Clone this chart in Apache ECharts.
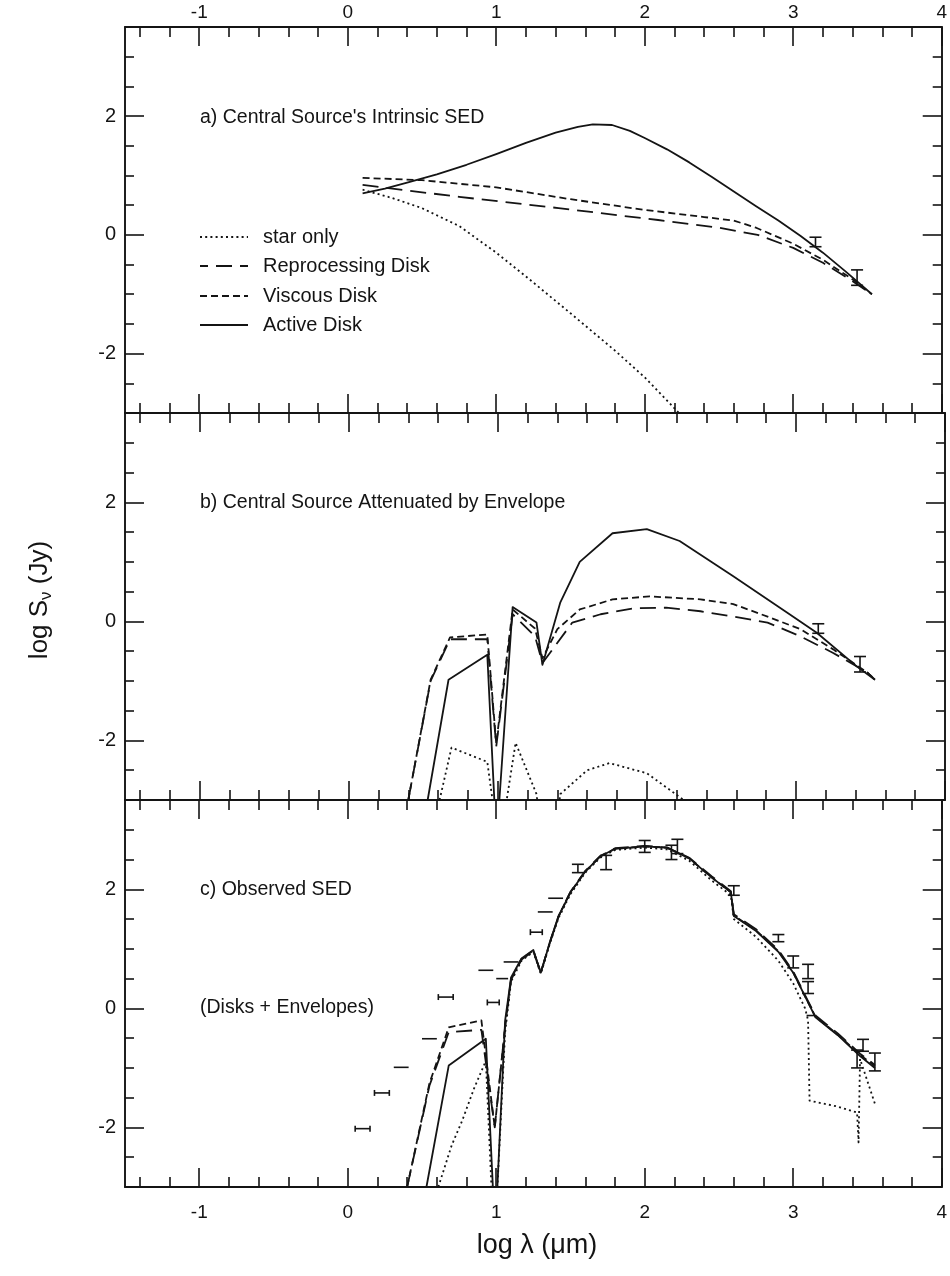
<!DOCTYPE html>
<html>
<head>
<meta charset="utf-8">
<script src="https://cdn.jsdelivr.net/npm/echarts@6/dist/echarts.min.js"></script>
<style>
  html, body { margin: 0; padding: 0; background: #fff; }
  #chart { width: 950px; height: 1276px; }
</style>
</head>
<body>
<div id="chart"></div>
<script>
// ---- axis ranges and tick labels ----
const xRange = [-1.5, 4];
const yRange = [-3, 3.5];
const xMajorTicks = [-1, 0, 1, 2, 3, 4];
const yMajorTicks = [-2, 0, 2];
const yMinorTicks = [-2.5, -1.5, -1, -0.5, 0.5, 1, 1.5, 2.5, 3];
const xMinorTicks = [];
for (let i = -7; i <= 19; i++) {
  const v = Math.round(i * 0.2 * 10) / 10;
  if (!Number.isInteger(v)) xMinorTicks.push(v);
}

// ---- panel titles and legend names ----
const panelTitles = [
  "a) Central Source's Intrinsic SED",
  "b) Central Source Attenuated by Envelope",
  "c) Observed SED"
];
const panelNote = "(Disks + Envelopes)";
const seriesNames = ["star only", "Reprocessing Disk", "Viscous Disk", "Active Disk"];

// ---- a) intrinsic SED of the central source: [log lambda, log S] ----
const starA = [[0.10,0.76],[0.3,0.62],[0.5,0.45],[0.75,0.15],[1.0,-0.30],[1.2,-0.70],[1.5,-1.32],[1.8,-1.95],[2.0,-2.40],[2.23,-3.0]];
const reproA = [[0.10,0.84],[0.75,0.64],[1.42,0.45],[2.09,0.25],[2.5,0.12],[2.76,0.0],[3.0,-0.22],[3.2,-0.47],[3.4,-0.78],[3.53,-1.0]];
const viscousA = [[0.10,0.96],[0.5,0.92],[1.0,0.80],[1.5,0.60],[2.0,0.42],[2.4,0.30],[2.6,0.24],[2.75,0.12],[3.0,-0.15],[3.2,-0.42],[3.4,-0.75],[3.53,-1.0]];
const activeA = [[0.10,0.70],[0.25,0.78],[0.4,0.88],[0.6,1.02],[0.8,1.18],[1.0,1.36],[1.2,1.55],[1.4,1.72],[1.55,1.82],[1.65,1.86],[1.78,1.85],[1.9,1.75],[2.0,1.63],[2.15,1.44],[2.3,1.22],[2.45,0.98],[2.6,0.73],[2.75,0.48],[2.9,0.24],[3.05,-0.02],[3.2,-0.3],[3.35,-0.61],[3.53,-1.0]];

// ---- b) central source seen through the envelope ----
const starB = [[0.61,-3.0],[0.69,-2.12],[0.93,-2.36],[0.965,-3.0],[0.975,-3.5],[1.045,-3.5],[1.06,-3.0],[1.12,-2.04],[1.26,-2.9],[1.28,-3.3],[1.40,-3.3],[1.42,-2.9],[1.6,-2.5],[1.75,-2.38],[2.0,-2.55],[2.22,-2.95],[2.3,-3.1]];
const reproB = [[0.40,-3.0],[0.55,-1.0],[0.68,-0.3],[0.93,-0.3],[0.99,-2.1],[1.10,0.12],[1.25,-0.25],[1.30,-0.7],[1.50,-0.02],[1.69,0.12],[1.91,0.22],[2.13,0.23],[2.36,0.17],[2.58,0.08],[2.81,-0.02],[3.03,-0.25],[3.25,-0.53],[3.48,-0.86],[3.53,-0.98]];
const viscousB = [[0.40,-3.0],[0.55,-0.98],[0.68,-0.27],[0.93,-0.22],[0.99,-2.05],[1.10,0.2],[1.25,-0.12],[1.30,-0.62],[1.40,-0.13],[1.55,0.2],[1.77,0.37],[2.02,0.42],[2.36,0.37],[2.58,0.29],[2.81,0.08],[3.03,-0.13],[3.25,-0.47],[3.48,-0.86],[3.53,-0.98]];
const activeB = [[0.53,-3.0],[0.67,-0.98],[0.93,-0.56],[0.985,-3.4],[1.0,-3.4],[1.10,0.24],[1.26,-0.02],[1.30,-0.73],[1.42,0.32],[1.55,1.0],[1.77,1.48],[2.0,1.55],[2.22,1.35],[2.58,0.76],[2.94,0.15],[3.14,-0.19],[3.41,-0.76],[3.53,-0.98]];

// ---- c) observed SED, disks plus envelopes ----
const starC = [[0.61,-3.0],[0.70,-2.3],[0.77,-1.89],[0.85,-1.35],[0.93,-0.88],[0.975,-3.4],[1.0,-3.4],[1.06,-0.4],[1.10,0.45],[1.17,0.8],[1.25,0.95],[1.30,0.58],[1.36,1.08],[1.42,1.52],[1.5,1.92],[1.6,2.28],[1.7,2.53],[1.8,2.66],[2.0,2.7],[2.15,2.67],[2.3,2.48],[2.45,2.15],[2.58,1.9],[2.6,1.5],[2.75,1.2],[2.9,0.8],[3.0,0.42],[3.08,0.0],[3.1,-0.2],[3.11,-1.55],[3.3,-1.65],[3.43,-1.75],[3.44,-2.25],[3.45,-0.85],[3.55,-1.6]];
const reproC = [[0.40,-3.0],[0.55,-1.3],[0.68,-0.4],[0.90,-0.36],[0.99,-2.0],[1.06,-0.3],[1.10,0.48],[1.17,0.82],[1.25,0.96],[1.30,0.6],[1.36,1.1],[1.42,1.55],[1.5,1.96],[1.6,2.31],[1.7,2.56],[1.8,2.69],[2.0,2.73],[2.15,2.7],[2.3,2.53],[2.45,2.22],[2.58,1.97],[2.6,1.58],[2.75,1.33],[2.9,0.98],[3.0,0.62],[3.1,0.12],[3.15,-0.12],[3.3,-0.42],[3.45,-0.76],[3.55,-0.95]];
const viscousC = [[0.40,-3.0],[0.55,-1.26],[0.68,-0.32],[0.90,-0.2],[0.99,-2.0],[1.06,-0.3],[1.10,0.5],[1.17,0.83],[1.25,0.97],[1.30,0.6],[1.36,1.1],[1.42,1.55],[1.5,1.95],[1.6,2.3],[1.7,2.55],[1.8,2.68],[2.0,2.72],[2.15,2.7],[2.3,2.52],[2.45,2.2],[2.58,1.95],[2.6,1.56],[2.75,1.31],[2.9,0.96],[3.0,0.6],[3.1,0.1],[3.15,-0.14],[3.3,-0.44],[3.45,-0.78],[3.55,-0.97]];
const activeC = [[0.53,-3.0],[0.68,-0.96],[0.93,-0.51],[0.985,-3.4],[1.0,-3.4],[1.06,-0.2],[1.10,0.52],[1.17,0.84],[1.25,0.98],[1.30,0.6],[1.36,1.1],[1.42,1.55],[1.5,1.95],[1.6,2.3],[1.7,2.55],[1.8,2.68],[2.0,2.72],[2.15,2.7],[2.3,2.52],[2.45,2.2],[2.58,1.95],[2.6,1.55],[2.75,1.3],[2.9,0.95],[3.0,0.6],[3.1,0.1],[3.15,-0.15],[3.3,-0.45],[3.45,-0.8],[3.55,-1.0]];

// ---- photometry: [log lambda, log S, half-width in log lambda, half-height in log S] ----
const obsMm = [[3.15,-0.12,0,0.08],[3.43,-0.72,0,0.13]];
const obsC = [
  [0.10,-2.02,0.05,0.05],[0.23,-1.42,0.05,0.05],[0.36,-0.99,0.05,0],[0.55,-0.51,0.05,0],
  [0.66,0.19,0.05,0.05],[0.93,0.64,0.05,0],[0.98,0.10,0.04,0.05],[1.04,0.50,0.04,0],
  [1.10,0.78,0.05,0],[1.27,1.28,0.04,0.05],[1.33,1.62,0.05,0],[1.40,1.85,0.05,0],
  [1.55,2.35,0,0.07],[1.74,2.45,0,0.12],[2.0,2.72,0,0.1],[2.18,2.62,0,0.12],[2.22,2.72,0,0.12],
  [2.6,1.98,0,0.08],[2.9,1.18,0,0.06],[3.0,0.78,0,0.1],[3.1,0.62,0,0.12],[3.1,0.35,0,0.1],
  [3.12,-0.12,0.03,0],[3.43,-0.85,0,0.15],[3.47,-0.62,0,0.1],[3.55,-0.9,0,0.15]
];

const panels = [
  { star: starA, repro: reproA, viscous: viscousA, active: activeA, obs: obsMm },
  { star: starB, repro: reproB, viscous: viscousB, active: activeB, obs: obsMm },
  { star: starC, repro: reproC, viscous: viscousC, active: activeC, obs: obsC }
];

// ---- styling ----
const INK = '#141414';
const FONT = '"Liberation Sans", Arial, Helvetica, sans-serif';
const PLOT_LEFT = 125, PLOT_WIDTH = 820;
const panelTop = [27, 413, 800];
const panelHeight = [386, 387, 387];
const lineStyles = {
  star:    { type: [2, 3.2], width: 1.8, offset: 0 },
  repro:   { type: [16, 8], width: 1.8, offset: 8 },
  viscous: { type: [7, 4], width: 1.8, offset: 0 },
  active:  { type: 'solid', width: 1.8, offset: 0 }
};

const chart = echarts.init(document.getElementById('chart'), null, { renderer: 'canvas' });

const grids = [], xAxes = [], yAxes = [], series = [];

panels.forEach((p, i) => {
  grids.push({ left: PLOT_LEFT, width: PLOT_WIDTH, top: panelTop[i], height: panelHeight[i], containLabel: false });

  const xBase = (position, ticks, len, showLine, showLabels) => ({
    type: 'value', gridIndex: i, position, min: xRange[0], max: xRange[1],
    axisLine: { show: showLine, onZero: false, lineStyle: { color: INK, width: 1.9 } },
    axisTick: { show: true, inside: true, length: len, customValues: ticks, lineStyle: { color: INK, width: 1.6 } },
    axisLabel: { show: showLabels, customValues: xMajorTicks, color: INK, fontFamily: FONT, fontSize: 19,
                 margin: position === 'top' ? 5 : 16 },
    splitLine: { show: false }
  });
  xAxes.push(xBase('bottom', xMinorTicks, 10, true, false));
  xAxes.push(xBase('bottom', xMajorTicks, 19, false, i === 2));
  xAxes.push(xBase('top', xMinorTicks, 10, true, false));
  xAxes.push(xBase('top', xMajorTicks, 19, false, i === 0));

  const yBase = (position, ticks, len, showLine, showLabels) => ({
    type: 'value', gridIndex: i, position, min: yRange[0], max: yRange[1],
    axisLine: { show: showLine, onZero: false, lineStyle: { color: INK, width: 1.9 } },
    axisTick: { show: true, inside: true, length: len, customValues: ticks, lineStyle: { color: INK, width: 1.6 } },
    axisLabel: { show: showLabels, customValues: yMajorTicks, color: INK, fontFamily: FONT, fontSize: 20, margin: 9 },
    splitLine: { show: false }
  });
  yAxes.push(yBase('left', yMinorTicks, 9, true, false));
  yAxes.push(yBase('left', yMajorTicks, 19, false, true));
  yAxes.push(yBase('right', yMinorTicks, 9, true, false));
  yAxes.push(yBase('right', yMajorTicks, 19, false, false));

  ['star', 'repro', 'viscous', 'active'].forEach((key, k) => {
    const ls = lineStyles[key];
    series.push({
      name: seriesNames[k] + ' ' + i,
      type: 'line', xAxisIndex: 4 * i, yAxisIndex: 4 * i,
      data: p[key], showSymbol: false, symbol: 'none', smooth: false, clip: true,
      lineStyle: { color: INK, cap: 'butt', join: 'round', type: ls.type, width: ls.width },
      animation: false, silent: true, z: 3
    });
  });

  series.push({
    type: 'custom', xAxisIndex: 4 * i, yAxisIndex: 4 * i,
    data: p.obs, encode: { x: 0, y: 1 }, animation: false, silent: true, z: 4,
    renderItem: (params, api) => {
      const x = api.value(0), y = api.value(1), ex = api.value(2), ey = api.value(3);
      const st = { stroke: INK, lineWidth: 1.6 };
      const kids = [];
      const seg = (a, b) => kids.push({ type: 'line', shape: { x1: a[0], y1: a[1], x2: b[0], y2: b[1] }, style: st });
      if (ex > 0) {
        const l = api.coord([x - ex, y]), r = api.coord([x + ex, y]);
        seg(l, r);
        if (ey > 0) {
          const t = api.coord([x, y + ey]), b = api.coord([x, y - ey]);
          seg([l[0], t[1]], [l[0], b[1]]);
          seg([r[0], t[1]], [r[0], b[1]]);
        }
      } else {
        const t = api.coord([x, y + ey]), b = api.coord([x, y - ey]);
        const cap = 6;
        seg(t, b);
        seg([t[0] - cap, t[1]], [t[0] + cap, t[1]]);
        seg([b[0] - cap, b[1]], [b[0] + cap, b[1]]);
      }
      return { type: 'group', children: kids };
    }
  });
});

// ---- annotations: panel captions, legend, axis titles ----
const label = (txt, size, x, yMid) => ({
  type: 'text', x: x, y: yMid, silent: true,
  style: { text: txt, fill: INK, font: size + 'px ' + FONT, align: 'left', verticalAlign: 'middle' }
});
const graphics = [];
const captionY = [118, 503, 890];
panelTitles.forEach((t, i) => graphics.push(label(t, 19.5, 200, captionY[i])));
graphics.push(label(panelNote, 19.5, 200, 1008));

const legendRows = [237, 266, 296, 325];
const legendKeys = ['star', 'repro', 'viscous', 'active'];
legendRows.forEach((yy, k) => {
  const ls = lineStyles[legendKeys[k]];
  graphics.push({
    type: 'line', shape: { x1: 200, y1: yy, x2: 248, y2: yy }, silent: true,
    style: { stroke: INK, lineWidth: ls.width, lineDash: ls.type === 'solid' ? null : ls.type, lineDashOffset: ls.offset }
  });
  graphics.push(label(seriesNames[k], 20, 263, yy));
});

graphics.push({
  type: 'text', x: 40, y: 600, rotation: Math.PI / 2, silent: true,
  style: {
    text: '{m|log S}{s|ν}{m| (Jy)}', align: 'center', verticalAlign: 'middle',
    rich: {
      m: { fill: INK, fontFamily: FONT, fontSize: 26 },
      s: { fill: INK, fontFamily: FONT, fontSize: 17, padding: [12, 0, 0, 0] }
    }
  }
});
graphics.push({
  type: 'text', x: 537, y: 1246, silent: true,
  style: { text: 'log λ (μm)', align: 'center', verticalAlign: 'middle', fill: INK, font: '27px ' + FONT }
});

chart.setOption({
  animation: false,
  backgroundColor: '#ffffff',
  grid: grids,
  xAxis: xAxes,
  yAxis: yAxes,
  series: series,
  graphic: graphics
});
</script>
</body>
</html>
